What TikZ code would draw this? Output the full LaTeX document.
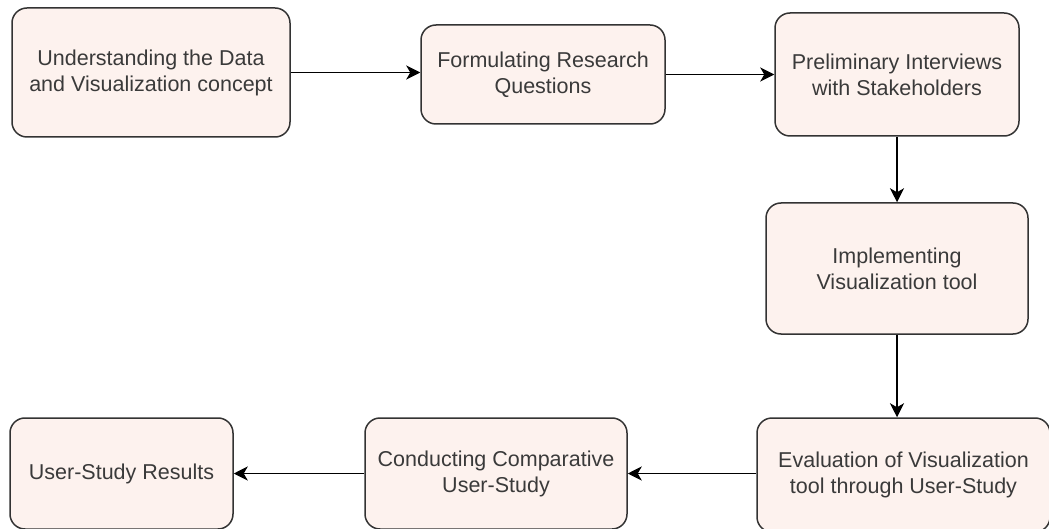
\documentclass[tikz,border=0pt]{standalone}
\usepackage{fontspec}
\setmainfont{Liberation Sans}
\usetikzlibrary{arrows.meta}
\definecolor{boxfill}{HTML}{FDF2EE}
\definecolor{boxline}{HTML}{333333}
\definecolor{txt}{HTML}{3A3A3A}
\tikzset{
  stepbox/.style={draw=boxline, line width=1.5pt, fill=boxfill, rounded corners=15pt,
    align=center, text=txt, font=\fontsize{21.5}{26}\selectfont, inner sep=0pt},
  flow/.style={draw=black, line width=1.5pt, -{Stealth[length=14pt,width=14pt,inset=4pt]}}
}
\begin{document}
\begin{tikzpicture}[x=1pt,y=-1pt]
\useasboundingbox (0,0) rectangle (1049,529);
\clip (0,0) rectangle (1049,529);
\node[stepbox, minimum width=278pt, minimum height=129pt] (b1) at (151,72.5) {Understanding the Data\\and Visualization concept};
\node[stepbox, minimum width=244pt, minimum height=99pt] (b2) at (543,74.5) {Formulating Research\\Questions};
\node[stepbox, minimum width=244pt, minimum height=123pt] (b3) at (897,74.5) {Preliminary Interviews\\with Stakeholders};
\node[stepbox, minimum width=262pt, minimum height=131pt] (b4) at (897,268.5) {Implementing\\Visualization tool};
\node[stepbox, minimum width=293pt, minimum height=114pt] (b5) at (903.5,475) {Evaluation of Visualization\\tool through User-Study};
\node[stepbox, minimum width=262pt, minimum height=111pt] (b6) at (496,473.5) {Conducting Comparative\\User-Study};
\node[stepbox, minimum width=223pt, minimum height=111pt] (b7) at (121.5,473.5) {User-Study Results};
\draw[flow] (b1.east) -- (b1.east -| b2.west);
\draw[flow] (b2.east) -- (b2.east -| b3.west);
\draw[flow] (b3.south) -- (b4.north);
\draw[flow] (b4.south) -- (b4.south |- b5.north);
\draw[flow] (b5.west |- b6.east) -- (b6.east);
\draw[flow] (b6.west) -- (b7.east);
\end{tikzpicture}
\end{document}
